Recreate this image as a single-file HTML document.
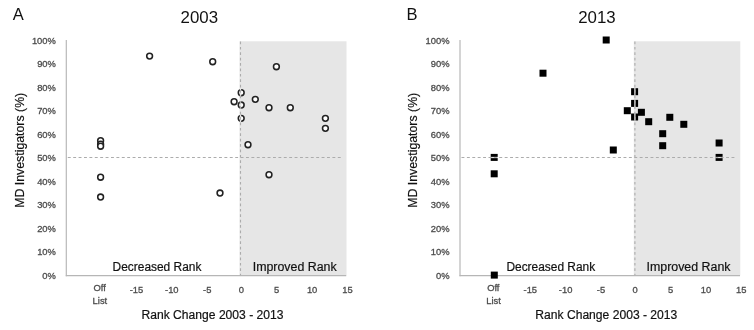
<!DOCTYPE html>
<html><head><meta charset="utf-8"><title>Figure</title>
<style>
html,body{margin:0;padding:0;background:#fff;}
body{width:754px;height:330px;overflow:hidden;font-family:"Liberation Sans",sans-serif;}
svg{display:block;filter:blur(0.4px)}
text{font-family:"Liberation Sans",sans-serif;}
.tk{font-size:9.4px;fill:#4c4c4c;stroke:#4c4c4c;stroke-width:0.3px}
.lb{font-size:12.5px;fill:#111;stroke:#111;stroke-width:0.2px}
.tt{font-size:17.2px;fill:#111}
.pn{font-size:16.5px;fill:#111}
</style></head><body>
<svg width="754" height="330" viewBox="0 0 754 330">
<rect x="-10" y="-10" width="774" height="350" fill="#fff"/>
<rect x="239.5" y="41.3" width="107.0" height="234.2" fill="#e6e6e6"/>
<line x1="66.3" y1="40" x2="66.3" y2="276.2" stroke="#b8b8b8" stroke-width="1.2"/>
<line x1="65.8" y1="275.59999999999997" x2="346.2" y2="275.59999999999997" stroke="#b6b6b6" stroke-width="1.4"/>
<text x="55.9" y="278.9" text-anchor="end" class="tk">0%</text>
<text x="55.9" y="255.4" text-anchor="end" class="tk">10%</text>
<text x="55.9" y="231.9" text-anchor="end" class="tk">20%</text>
<text x="55.9" y="208.4" text-anchor="end" class="tk">30%</text>
<text x="55.9" y="184.9" text-anchor="end" class="tk">40%</text>
<text x="55.9" y="161.4" text-anchor="end" class="tk">50%</text>
<text x="55.9" y="137.9" text-anchor="end" class="tk">60%</text>
<text x="55.9" y="114.4" text-anchor="end" class="tk">70%</text>
<text x="55.9" y="90.9" text-anchor="end" class="tk">80%</text>
<text x="55.9" y="67.4" text-anchor="end" class="tk">90%</text>
<text x="55.9" y="43.9" text-anchor="end" class="tk">100%</text>
<text x="136.5" y="292.9" text-anchor="middle" class="tk">-15</text>
<text x="171.8" y="292.9" text-anchor="middle" class="tk">-10</text>
<text x="207.2" y="292.9" text-anchor="middle" class="tk">-5</text>
<text x="241.4" y="292.9" text-anchor="middle" class="tk">0</text>
<text x="276.7" y="292.9" text-anchor="middle" class="tk">5</text>
<text x="312.1" y="292.9" text-anchor="middle" class="tk">10</text>
<text x="347.4" y="292.9" text-anchor="middle" class="tk">15</text>
<text x="99.6" y="291.4" text-anchor="middle" class="tk">Off</text>
<text x="99.9" y="304.1" text-anchor="middle" class="tk">List</text>
<text x="112.6" y="270.7" class="lb" textLength="88.8" lengthAdjust="spacingAndGlyphs">Decreased Rank</text>
<text x="252.7" y="270.7" class="lb" textLength="84" lengthAdjust="spacingAndGlyphs">Improved Rank</text>
<text x="141.5" y="318.9" class="lb" textLength="142" lengthAdjust="spacingAndGlyphs">Rank Change 2003 - 2013</text>
<text x="180.6" y="23.3" class="tt" textLength="37.5" lengthAdjust="spacingAndGlyphs">2003</text>
<text x="12.8" y="20" class="pn">A</text>
<text transform="translate(23.6 207.8) rotate(-90)" class="lb" textLength="115" lengthAdjust="spacingAndGlyphs">MD Investigators (%)</text>
<circle cx="149.6" cy="56.1" r="2.9" fill="#fff" stroke="#222" stroke-width="1.55"/>
<circle cx="212.7" cy="61.7" r="2.9" fill="#fff" stroke="#222" stroke-width="1.55"/>
<circle cx="276.4" cy="66.7" r="2.9" fill="#fff" stroke="#222" stroke-width="1.55"/>
<circle cx="241.2" cy="92.7" r="2.9" fill="#fff" stroke="#222" stroke-width="1.55"/>
<circle cx="234.1" cy="101.7" r="2.9" fill="#fff" stroke="#222" stroke-width="1.55"/>
<circle cx="241.2" cy="105.0" r="2.9" fill="#fff" stroke="#222" stroke-width="1.55"/>
<circle cx="255.3" cy="99.3" r="2.9" fill="#fff" stroke="#222" stroke-width="1.55"/>
<circle cx="269.0" cy="107.7" r="2.9" fill="#fff" stroke="#222" stroke-width="1.55"/>
<circle cx="290.3" cy="107.7" r="2.9" fill="#fff" stroke="#222" stroke-width="1.55"/>
<circle cx="241.2" cy="118.3" r="2.9" fill="#fff" stroke="#222" stroke-width="1.55"/>
<circle cx="325.4" cy="118.3" r="2.9" fill="#fff" stroke="#222" stroke-width="1.55"/>
<circle cx="325.4" cy="128.3" r="2.9" fill="#fff" stroke="#222" stroke-width="1.55"/>
<circle cx="248.0" cy="144.7" r="2.9" fill="#fff" stroke="#222" stroke-width="1.55"/>
<circle cx="100.6" cy="140.7" r="2.9" fill="#fff" stroke="#222" stroke-width="1.55"/>
<circle cx="100.6" cy="144.2" r="2.9" fill="#fff" stroke="#222" stroke-width="1.55"/>
<circle cx="100.6" cy="146.2" r="2.9" fill="#fff" stroke="#222" stroke-width="1.55"/>
<circle cx="100.6" cy="177.2" r="2.9" fill="#fff" stroke="#222" stroke-width="1.55"/>
<circle cx="100.6" cy="197.0" r="2.9" fill="#fff" stroke="#222" stroke-width="1.55"/>
<circle cx="220.0" cy="193.0" r="2.9" fill="#fff" stroke="#222" stroke-width="1.55"/>
<circle cx="269.0" cy="174.7" r="2.9" fill="#fff" stroke="#222" stroke-width="1.55"/>
<line x1="240.5" y1="88.9" x2="240.5" y2="96.5" stroke="#e4e4e4" stroke-width="1.3"/>
<line x1="240.5" y1="101.2" x2="240.5" y2="108.8" stroke="#e4e4e4" stroke-width="1.3"/>
<line x1="240.5" y1="114.5" x2="240.5" y2="122.1" stroke="#e4e4e4" stroke-width="1.3"/>
<line x1="67.8" y1="157.5" x2="342.2" y2="157.5" stroke="#acacac" stroke-width="1.1" stroke-dasharray="2.9 2.5"/>
<line x1="240.5" y1="41.5" x2="240.5" y2="275.2" stroke="#acacac" stroke-width="1.1" stroke-dasharray="2.7 2.7"/>
<rect x="633.8" y="41.3" width="106.5" height="234.2" fill="#e6e6e6"/>
<line x1="460.0" y1="40" x2="460.0" y2="276.2" stroke="#b8b8b8" stroke-width="1.2"/>
<line x1="459.5" y1="275.59999999999997" x2="740.0" y2="275.59999999999997" stroke="#b6b6b6" stroke-width="1.4"/>
<text x="449.6" y="278.9" text-anchor="end" class="tk">0%</text>
<text x="449.6" y="255.4" text-anchor="end" class="tk">10%</text>
<text x="449.6" y="231.9" text-anchor="end" class="tk">20%</text>
<text x="449.6" y="208.4" text-anchor="end" class="tk">30%</text>
<text x="449.6" y="184.9" text-anchor="end" class="tk">40%</text>
<text x="449.6" y="161.4" text-anchor="end" class="tk">50%</text>
<text x="449.6" y="137.9" text-anchor="end" class="tk">60%</text>
<text x="449.6" y="114.4" text-anchor="end" class="tk">70%</text>
<text x="449.6" y="90.9" text-anchor="end" class="tk">80%</text>
<text x="449.6" y="67.4" text-anchor="end" class="tk">90%</text>
<text x="449.6" y="43.9" text-anchor="end" class="tk">100%</text>
<text x="530.3" y="292.9" text-anchor="middle" class="tk">-15</text>
<text x="565.6" y="292.9" text-anchor="middle" class="tk">-10</text>
<text x="601.0" y="292.9" text-anchor="middle" class="tk">-5</text>
<text x="635.2" y="292.9" text-anchor="middle" class="tk">0</text>
<text x="670.5" y="292.9" text-anchor="middle" class="tk">5</text>
<text x="705.9" y="292.9" text-anchor="middle" class="tk">10</text>
<text x="741.2" y="292.9" text-anchor="middle" class="tk">15</text>
<text x="493.3" y="291.4" text-anchor="middle" class="tk">Off</text>
<text x="493.6" y="304.1" text-anchor="middle" class="tk">List</text>
<text x="506.4" y="270.7" class="lb" textLength="88.8" lengthAdjust="spacingAndGlyphs">Decreased Rank</text>
<text x="646.5" y="270.7" class="lb" textLength="84" lengthAdjust="spacingAndGlyphs">Improved Rank</text>
<text x="535.3" y="318.9" class="lb" textLength="142" lengthAdjust="spacingAndGlyphs">Rank Change 2003 - 2013</text>
<text x="578.2" y="23.3" class="tt" textLength="37.5" lengthAdjust="spacingAndGlyphs">2013</text>
<text x="406.5" y="20" class="pn">B</text>
<text transform="translate(417.3 207.8) rotate(-90)" class="lb" textLength="115" lengthAdjust="spacingAndGlyphs">MD Investigators (%)</text>
<rect x="602.7" y="36.5" width="7" height="7" fill="#000"/>
<rect x="539.5" y="69.7" width="7" height="7" fill="#000"/>
<rect x="631.1" y="88.2" width="7" height="7" fill="#000"/>
<rect x="631.1" y="99.9" width="7" height="7" fill="#000"/>
<rect x="623.8" y="107.2" width="7" height="7" fill="#000"/>
<rect x="637.9" y="108.8" width="7" height="7" fill="#000"/>
<rect x="631.1" y="113.5" width="7" height="7" fill="#000"/>
<rect x="645.2" y="118.2" width="7" height="7" fill="#000"/>
<rect x="666.3" y="113.8" width="7" height="7" fill="#000"/>
<rect x="680.3" y="120.8" width="7" height="7" fill="#000"/>
<rect x="659.2" y="130.2" width="7" height="7" fill="#000"/>
<rect x="659.2" y="142.2" width="7" height="7" fill="#000"/>
<rect x="715.6" y="139.5" width="7" height="7" fill="#000"/>
<rect x="715.6" y="153.9" width="7" height="7" fill="#000"/>
<rect x="609.8" y="146.5" width="7" height="7" fill="#000"/>
<rect x="490.7" y="153.9" width="7" height="7" fill="#000"/>
<rect x="490.7" y="170.3" width="7" height="7" fill="#000"/>
<rect x="490.8" y="271.6" width="7" height="7" fill="#000"/>
<line x1="634.9" y1="87.9" x2="634.9" y2="95.5" stroke="#e4e4e4" stroke-width="1.3"/>
<line x1="634.9" y1="99.6" x2="634.9" y2="107.2" stroke="#e4e4e4" stroke-width="1.3"/>
<line x1="634.9" y1="113.2" x2="634.9" y2="120.8" stroke="#e4e4e4" stroke-width="1.3"/>
<line x1="715.3" y1="157.5" x2="722.9" y2="157.5" stroke="#e4e4e4" stroke-width="1.3"/>
<line x1="490.4" y1="157.5" x2="498.0" y2="157.5" stroke="#e4e4e4" stroke-width="1.3"/>
<line x1="461.5" y1="157.5" x2="736.0" y2="157.5" stroke="#acacac" stroke-width="1.1" stroke-dasharray="2.9 2.5"/>
<line x1="634.9" y1="41.5" x2="634.9" y2="275.2" stroke="#acacac" stroke-width="1.1" stroke-dasharray="2.7 2.7"/>
</svg>
</body></html>
